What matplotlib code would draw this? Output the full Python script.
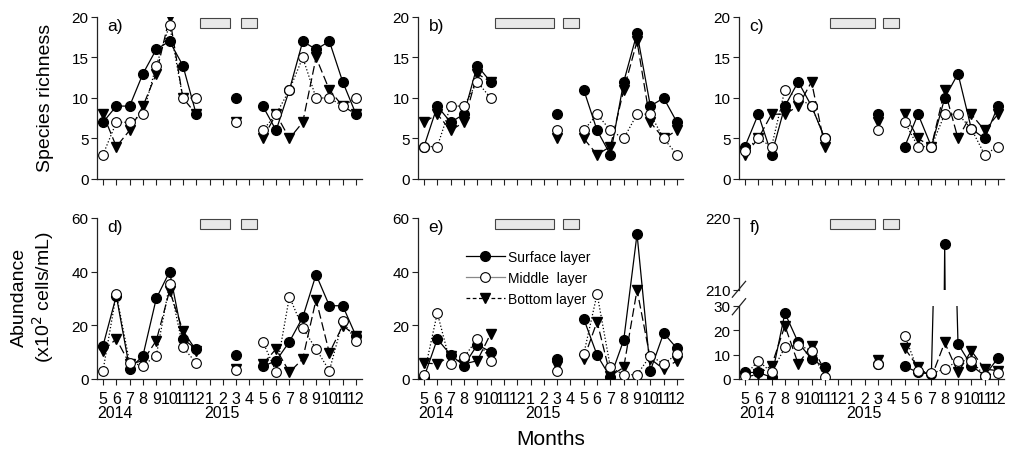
import numpy as np
import matplotlib.pyplot as plt
from matplotlib.lines import Line2D
from matplotlib.patches import Rectangle
import matplotlib.transforms as mtransforms

plt.rcParams['font.family'] = ['Liberation Sans', 'DejaVu Sans']

nan = np.nan

# months from May 2014 to December 2015
months = ['5', '6', '7', '8', '9', '10', '11', '12', '1', '2',
          '3', '4', '5', '6', '7', '8', '9', '10', '11', '12']
year_labels = ['2014', '2015']
year_pos = [0.9, 8.9]

# species richness (panels a-c)
rich_a_surf = [7, 9, 9, 13, 16, 17, 14, 8, nan, nan, 10, nan, 9, 6, 11, 17, 16, 17, 12, 8]
rich_a_mid = [3, 7, 7, 8, 14, 19, 10, 10, nan, nan, 7, nan, 6, 8, 11, 15, 10, 10, 9, 10]
rich_a_bot = [8, 4, 6, 9, 13, 20, 10, 8, nan, nan, 7, nan, 5, 8, 5, 7, 15, 11, 9, 8]

rich_b_surf = [4, 9, 7, 8, 14, 12, nan, nan, nan, nan, 8, nan, 11, 6, 3, 12, 18, 9, 10, 7]
rich_b_mid = [4, 4, 9, 9, 12, 10, nan, nan, nan, nan, 6, nan, 6, 8, 6, 5, 8, 8, 5, 3]
rich_b_bot = [7, 8, 6, 7, 13, 12, nan, nan, nan, nan, 5, nan, 5, 3, 4, 11, 17, 7, 5, 6]

rich_c_surf = [4, 8, 3, 9, 12, 9, 5, nan, nan, nan, 8, nan, 4, 8, 4, 10, 13, 6.2, 5, 9]
rich_c_mid = [3.5, 5, 4, 11, 10, 9, 5, nan, nan, nan, 6, nan, 7, 4, 4, 8, 8, 6.2, 3, 4]
rich_c_bot = [3, 5, 8, 8, 9, 12, 4, nan, nan, nan, 7, nan, 8, 5, 4, 11, 5, 8, 6, 8]

# abundance, x10^2 cells/mL (panels d-f)
abun_d_surf = [12.4, 31, 3.7, 8.7, 30, 40, 14.9, 11.2, nan, nan, 8.9, nan, 4.7, 6.8, 13.9, 23, 38.9, 27.3, 27.3, 16]
abun_d_mid = [3.1, 31.7, 6, 5, 8.7, 35.4, 11.8, 6, nan, nan, 3.5, nan, 13.9, 2.7, 30.7, 18.9, 11.2, 3.1, 21.5, 14.3]
abun_d_bot = [10.6, 14.9, 5.6, 6.8, 14.3, 32.9, 18, 10.6, nan, nan, 3.7, nan, 5.6, 11.2, 2.5, 7.5, 29.6, 9.7, 19.9, 16.1]

abun_e_surf = [0.6, 14.9, 9, 5, 12.7, 10.2, nan, nan, nan, nan, 7.5, nan, 22.4, 8.9, 0.6, 14.5, 54, 3.1, 17.1, 11.4]
abun_e_mid = [1.6, 24.6, 5.6, 8.1, 14.9, 6.8, nan, nan, nan, nan, 3.1, nan, 9.3, 31.7, 4.3, 1.6, 1.6, 8.7, 5.6, 9.3]
abun_e_bot = [6, 5.6, 8.7, 5.6, 6.8, 16.8, nan, nan, nan, nan, 5, nan, 7.5, 21.4, 1.2, 4.3, 33.2, 7.5, 3.7, 6.8]

abun_f_surf = [2.7, 2.7, 0.7, 27.1, 15, 8.2, 4.8, nan, nan, nan, 6.2, nan, 5.2, 2.7, 2, 216.4, 14.4, 5.5, 1.4, 8.6]
abun_f_mid = [1.4, 7.5, 2.7, 13, 14, 11.6, 0.7, nan, nan, nan, 6.2, nan, 17.8, 3.4, 2.3, 4.1, 7.5, 7.5, 1.4, 2.5]
abun_f_bot = [0.7, 2, 5.5, 21.9, 6.2, 13.7, 3.4, nan, nan, nan, 7.9, nan, 12.6, 4.8, 0.7, 15, 2.7, 11.6, 4.1, 3.4]

# grey bars at the top of each column (month-index spans)
gap_bars = [
    [(7.25, 9.55), (10.375, 11.575)],
    [(5.3, 9.75), (10.45, 11.65)],
    [(6.4, 9.75), (10.4, 11.6)],
]

x = np.arange(len(months))

fig = plt.figure(figsize=(10.18, 4.52), dpi=100)
FIG_H = 452.0

lefts = [0.0953, 0.4106, 0.7259]
width = 0.2603


def style_axis(ax, show_labels):
    ax.spines['top'].set_visible(False)
    ax.spines['right'].set_visible(False)
    for s in ['left', 'bottom']:
        ax.spines[s].set_linewidth(0.9)
        ax.spines[s].set_color('#222222')
    ax.set_xlim(-0.45, 19.45)
    ax.set_xticks(x)
    ax.tick_params(axis='both', direction='out', length=4, width=0.8,
                   color='#222222', labelsize=11)
    ax.tick_params(axis='y', pad=2)
    ax.tick_params(axis='x', pad=5)
    if show_labels:
        ax.set_xticklabels(months, fontsize=11.5)
        trans = (mtransforms.blended_transform_factory(ax.transData, ax.transAxes)
                 + mtransforms.ScaledTranslation(0, -0.34, fig.dpi_scale_trans))
        for yl, xp in zip(year_labels, year_pos):
            ax.text(xp, 0, yl, transform=trans, ha='center', va='center',
                    fontsize=11.5)
    else:
        ax.set_xticklabels([])


def plot_layers(ax, surf, mid, bot):
    ax.plot(x, bot, color='black', lw=0.9, ls=(0, (7, 3)), marker='v',
            ms=7.5, mfc='black', mec='black', zorder=3)
    ax.plot(x, surf, color='black', lw=0.9, ls='-', marker='o',
            ms=7, mfc='black', mec='black', zorder=4)
    ax.plot(x, mid, color='black', lw=0.9, ls=':', marker='o',
            ms=7, mfc='white', mec='black', mew=0.8, zorder=5)


def add_bars(ax, col):
    trans = mtransforms.blended_transform_factory(ax.transData, ax.transAxes)
    h_px = ax.get_position().height * FIG_H
    bh = 10.0 / h_px
    y0 = 1 - 1.0 / h_px - bh
    for x0, x1 in gap_bars[col]:
        ax.add_patch(Rectangle((x0, y0), x1 - x0, bh, transform=trans,
                               facecolor='#e8e8e8', edgecolor='#444444',
                               lw=0.8, clip_on=False, zorder=6))


def panel_letter(ax, letter):
    trans = ax.transAxes + mtransforms.ScaledTranslation(0, -0.01, fig.dpi_scale_trans)
    ax.text(0.04, 1.0, letter, transform=trans, ha='left', va='top',
            fontsize=12.5)


# top row: species richness
rich = [(rich_a_surf, rich_a_mid, rich_a_bot),
        (rich_b_surf, rich_b_mid, rich_b_bot),
        (rich_c_surf, rich_c_mid, rich_c_bot)]
for i, (s, m, b) in enumerate(rich):
    ax = fig.add_axes([lefts[i], 0.6018, width, 0.3584])
    plot_layers(ax, s, m, b)
    style_axis(ax, False)
    ax.set_ylim(0, 20)
    ax.set_yticks([0, 5, 10, 15, 20])
    add_bars(ax, i)
    panel_letter(ax, 'abc'[i] + ')')

# bottom row: abundance (d, e)
abun = [(abun_d_surf, abun_d_mid, abun_d_bot),
        (abun_e_surf, abun_e_mid, abun_e_bot)]
for i, (s, m, b) in enumerate(abun):
    ax = fig.add_axes([lefts[i], 0.1593, width, 0.3562])
    plot_layers(ax, s, m, b)
    style_axis(ax, True)
    ax.set_ylim(0, 60)
    ax.set_yticks([0, 20, 40, 60])
    add_bars(ax, i)
    panel_letter(ax, 'de'[i] + ')')
    if i == 1:
        handles = [
            Line2D([], [], color='black', lw=0.9, marker='o', ms=7,
                   mfc='black', mec='black'),
            Line2D([], [], color='#888888', lw=0.9, marker='o', ms=7,
                   mfc='white', mec='black', mew=0.8),
            Line2D([], [], color='black', lw=0.9, ls=(0, (3, 2)), marker='v',
                   ms=7, mfc='black', mec='black'),
        ]
        ax.legend(handles, ['Surface layer', 'Middle  layer', 'Bottom layer'],
                  loc='upper left', bbox_to_anchor=(0.18, 0.8), frameon=False,
                  fontsize=10, handlelength=2.8, handletextpad=0.25,
                  labelspacing=0.5, borderpad=0, borderaxespad=0)

# panel f with broken y axis
ax_lo = fig.add_axes([lefts[2], 0.1593, width, 0.1615])
ax_hi = fig.add_axes([lefts[2], 0.3562, width, 0.1593])
for ax in (ax_lo, ax_hi):
    plot_layers(ax, abun_f_surf, abun_f_mid, abun_f_bot)
style_axis(ax_lo, True)
ax_lo.set_ylim(0, 30)
ax_lo.set_yticks([0, 10, 20, 30])
style_axis(ax_hi, False)
ax_hi.spines['bottom'].set_visible(False)
ax_hi.tick_params(axis='x', length=0)
ax_hi.set_ylim(210, 220)
ax_hi.set_yticks([210, 220])
add_bars(ax_hi, 2)
panel_letter(ax_hi, 'f)')

# break marks on the left spine
kw = dict(color='#222222', lw=0.9, clip_on=False)
ax_hi.plot([-0.025, 0.025], [-0.1, 0.12], transform=ax_hi.transAxes, **kw)
ax_lo.plot([-0.025, 0.025], [0.88, 1.1], transform=ax_lo.transAxes, **kw)

# axis titles
fig.text(0.045, 0.783, 'Species richness', rotation=90, ha='center',
         va='center', fontsize=14)
fig.text(0.033, 0.343, 'Abundance\n(x10$^2$ cells/mL)', rotation=90,
         ha='center', va='center', fontsize=14, linespacing=1.1)
fig.text(0.541, 0.027, 'Months', ha='center', va='center', fontsize=15)

fig.savefig('out.png', dpi=100)
